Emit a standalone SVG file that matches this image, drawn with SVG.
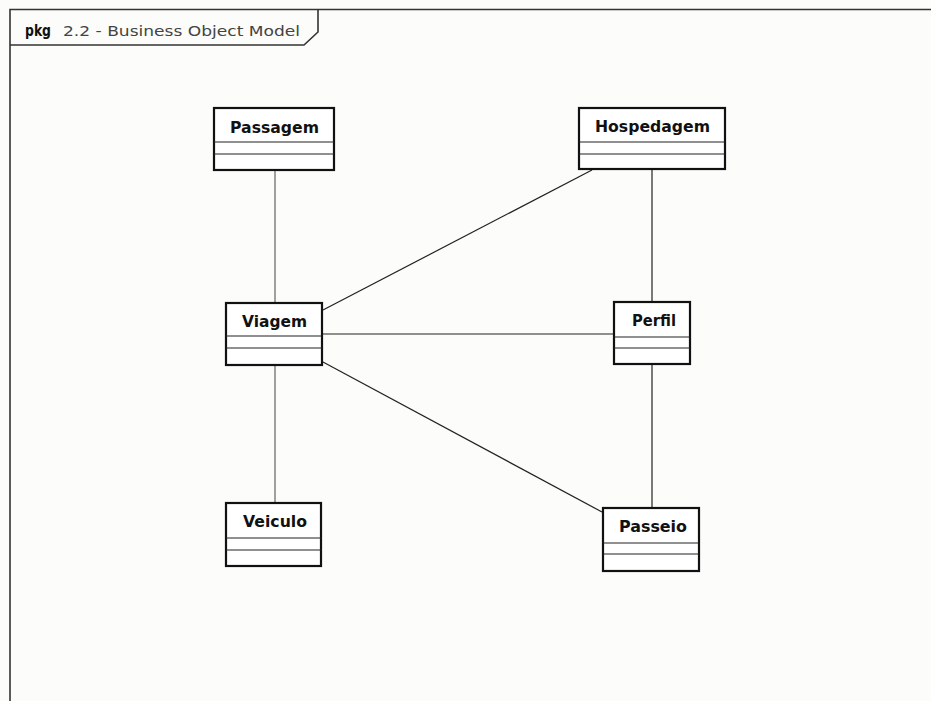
<svg xmlns="http://www.w3.org/2000/svg" width="931" height="701" viewBox="0 0 931 701">
  <style>
    .frame { fill: none; stroke: #333; stroke-width: 1.6; }
    .cls rect { fill: #ffffff; stroke: #111; stroke-width: 2.2; }
    .cls line { stroke: #222; stroke-width: 1.2; }
    .cls text { font-family: "DejaVu Sans", sans-serif; font-weight: bold; font-size: 15.5px; fill: #111; text-anchor: middle; }
    .assoc { stroke: #222; stroke-width: 1.2; fill: none; }
    .assoc.grey { stroke: #a0a0a0; stroke-width: 2; }
    .title { font-family: "DejaVu Sans", sans-serif; font-size: 14px; fill: #444; }
  </style>
  <rect x="0" y="0" width="931" height="701" fill="#fcfcfa"/>

  <!-- package frame -->
  <g id="package">
    <path class="frame" d="M10,701 V9.5 H931"/>
    <path class="frame" d="M10,45 H304 L318,32 V9.5"/>
    <text class="title" y="36"><tspan x="25" font-weight="bold" font-size="15.5" fill="#111" textLength="26" lengthAdjust="spacingAndGlyphs">pkg</tspan><tspan x="63" textLength="237" lengthAdjust="spacingAndGlyphs">2.2 - Business Object Model</tspan></text>
  </g>

  <!-- associations -->
  <g id="connectors">
    <line class="assoc grey" x1="275" y1="170" x2="275" y2="303"/>
    <line class="assoc grey" x1="275" y1="365" x2="275" y2="503"/>
    <line class="assoc" x1="592" y1="170" x2="323" y2="310"/>
    <line class="assoc" x1="652" y1="169" x2="652" y2="302"/>
    <line class="assoc" x1="323" y1="334" x2="613" y2="334"/>
    <line class="assoc" x1="323" y1="362" x2="602" y2="512"/>
    <line class="assoc" x1="652" y1="364" x2="652" y2="508"/>
  </g>

  <g id="Passagem" class="cls">
    <rect x="214" y="108" width="120" height="62"/>
    <line x1="214" y1="142" x2="334" y2="142"/>
    <line x1="214" y1="154" x2="334" y2="154"/>
    <text x="274.5" y="133" textLength="89" lengthAdjust="spacingAndGlyphs">Passagem</text>
  </g>

  <g id="Hospedagem" class="cls">
    <rect x="579" y="108" width="146" height="61"/>
    <line x1="579" y1="142" x2="725" y2="142"/>
    <line x1="579" y1="154" x2="725" y2="154"/>
    <text x="652.5" y="132" textLength="115" lengthAdjust="spacingAndGlyphs">Hospedagem</text>
  </g>

  <g id="Viagem" class="cls">
    <rect x="226" y="303" width="96" height="62"/>
    <line x1="226" y1="336" x2="322" y2="336"/>
    <line x1="226" y1="348" x2="322" y2="348"/>
    <text x="274.5" y="327" textLength="65" lengthAdjust="spacingAndGlyphs">Viagem</text>
  </g>

  <g id="Perfil" class="cls">
    <rect x="614" y="302" width="76" height="62"/>
    <line x1="614" y1="337" x2="690" y2="337"/>
    <line x1="614" y1="348" x2="690" y2="348"/>
    <text x="654" y="326" textLength="44" lengthAdjust="spacingAndGlyphs">Perfil</text>
  </g>

  <g id="Veiculo" class="cls">
    <rect x="226" y="503" width="95" height="63"/>
    <line x1="226" y1="538" x2="321" y2="538"/>
    <line x1="226" y1="550" x2="321" y2="550"/>
    <text x="275" y="527" textLength="64" lengthAdjust="spacingAndGlyphs">Veiculo</text>
  </g>

  <g id="Passeio" class="cls">
    <rect x="603" y="508" width="96" height="63"/>
    <line x1="603" y1="543" x2="699" y2="543"/>
    <line x1="603" y1="554" x2="699" y2="554"/>
    <text x="653" y="532" textLength="68" lengthAdjust="spacingAndGlyphs">Passeio</text>
  </g>
</svg>
